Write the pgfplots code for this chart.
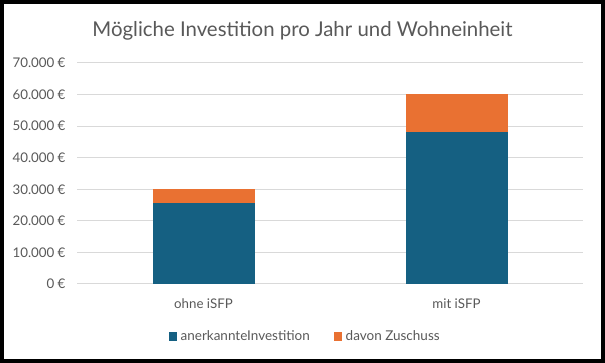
\documentclass[border=0pt]{standalone}
\usepackage{pgfplots}
\pgfplotsset{compat=1.18}
\usepackage{fontspec}
\setmainfont{Lato}
\definecolor{cblue}{HTML}{156082}
\definecolor{corange}{HTML}{E97132}
\definecolor{cgrid}{HTML}{D9D9D9}
\definecolor{ctext}{HTML}{595959}
\begin{document}
\begin{tikzpicture}
\path[use as bounding box] (0pt,0pt) rectangle (605pt,363pt);
\fill[white] (0pt,0pt) rectangle (605pt,363pt);
\node[text=ctext, font=\fontsize{20.4}{23}\selectfont] at (302.5pt,332pt) {Mögliche Investition pro Jahr und Wohneinheit};
\begin{axis}[
  at={(77pt,79pt)}, anchor=south west,
  scale only axis, width=506pt, height=221pt,
  ybar stacked, bar width=101pt,
  xmin=-0.5, xmax=1.5, ymin=0, ymax=70000,
  scaled y ticks=false,
  xtick={0,1}, xticklabels={ohne iSFP, mit iSFP},
  ytick={0,10000,20000,30000,40000,50000,60000,70000},
  yticklabels={0 €,10.000 €,20.000 €,30.000 €,40.000 €,50.000 €,60.000 €,70.000 €},
  ymajorgrids, major grid style={cgrid, line width=1pt},
  axis line style={draw=none},
  major tick length=0pt,
  tick label style={text=ctext, font=\fontsize{13.3}{15}\selectfont},
  yticklabel style={xshift=-8pt},
  xticklabel style={yshift=-11pt},
  legend columns=2,
  legend style={at={(0.451,-0.235)}, anchor=center, draw=none, fill=none,
    font=\fontsize{13.5}{15}\selectfont, text=ctext,
    /tikz/every odd column/.append style={column sep=2pt},
    /tikz/every even column/.append style={column sep=22pt}},
  legend image code/.code={\fill[#1] (0pt,-3.8pt) rectangle (7.6pt,3.8pt);},
]
\addplot[fill=cblue, draw=cblue, line width=0.3pt] coordinates {(0,25500) (1,48000)};
\addplot[fill=corange, draw=corange, line width=0.3pt] coordinates {(0,4500) (1,12000)};
\legend{anerkannteInvestition, davon Zuschuss}
\end{axis}
\draw[black, line width=4pt] (2pt,2pt) rectangle (603pt,361pt);
\end{tikzpicture}
\end{document}
